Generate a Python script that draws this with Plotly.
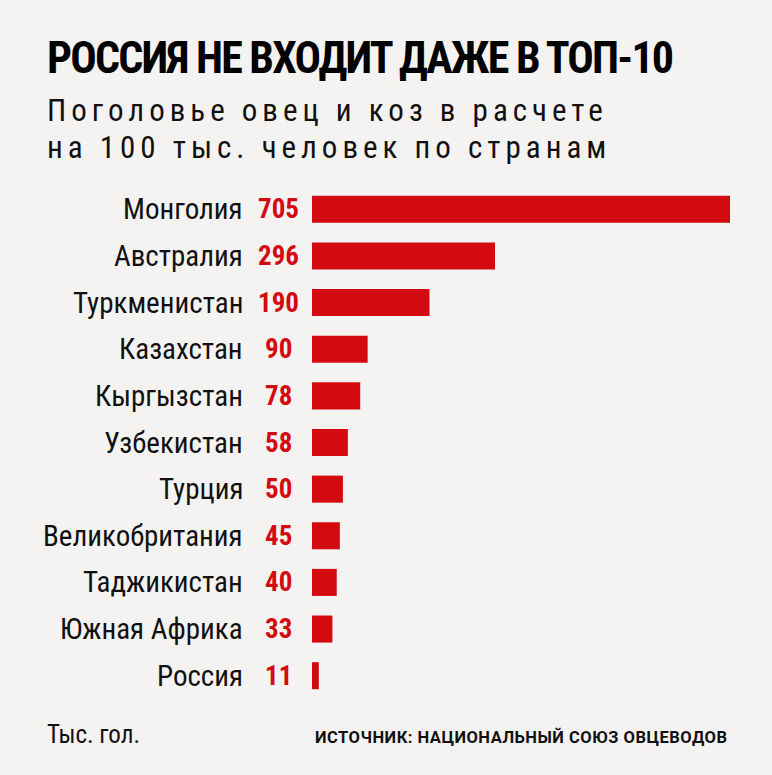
import plotly.graph_objects as go

# --- Data: sheep & goats per 100k people ---
countries = ["Монголия", "Австралия", "Туркменистан", "Казахстан", "Кыргызстан",
             "Узбекистан", "Турция", "Великобритания", "Таджикистан",
             "Южная Африка", "Россия"]
values = [705, 296, 190, 90, 78, 58, 50, 45, 40, 33, 11]

BG = "#f5f3f1"
RED = "#d40a11"
W, H = 772, 775
L, R, T, B = 312, 42, 186, 76
PW, PH = W - L - R, H - T - B


def px(x):
    return (x - L) / PW


def py(y):
    return (H - B - y) / PH


def spaced(s, ls):
    return f'<span style="letter-spacing:{ls}px">{s}</span>'


fig = go.Figure()

fig.add_trace(
    go.Bar(
        x=values,
        y=countries,
        orientation="h",
        marker=dict(color=RED, line=dict(width=0)),
        width=0.58,
        hoverinfo="skip",
    )
)

# country names and values next to the bars
for c, v in zip(countries, values):
    fig.add_annotation(x=px(245), xref="paper", y=c, yref="y", text=c,
                       xanchor="right", yanchor="middle", showarrow=False,
                       font=dict(family="Roboto Condensed", size=29, color="#111111"))
    fig.add_annotation(x=px(278), xref="paper", y=c, yref="y", text=str(v),
                       xanchor="center", yanchor="middle", showarrow=False,
                       font=dict(family="Roboto Condensed", size=27,
                                 color=RED, weight="bold"))

# title, subtitle, footer
sub_font = dict(family="Roboto Condensed", size=31, color="#111111", weight=400)
texts = [
    (spaced("РОССИЯ НЕ ВХОДИТ ДАЖЕ В ТОП-10", -1.8), 45, 58, "left",
     dict(family="Roboto Condensed", size=44, color="#000000", weight="bold")),
    (spaced("Поголовье овец и коз в расчете", 5), 45, 110, "left", sub_font),
    (spaced("на 100 тыс. человек по странам", 5), 45, 148, "left", sub_font),
    ("Тыс. гол.", 45, 734, "left",
     dict(family="Roboto Condensed", size=25, color="#111111")),
    (spaced("ИСТОЧНИК: НАЦИОНАЛЬНЫЙ СОЮЗ ОВЦЕВОДОВ", 0.5), 729, 737, "right",
     dict(family="Roboto", size=16.5, color="#111111", weight="bold")),
]
for txt, x, y, anchor, font in texts:
    fig.add_annotation(x=px(x), xref="paper", y=py(y), yref="paper", text=txt,
                       xanchor=anchor, yanchor="middle", showarrow=False, font=font)

fig.update_layout(
    width=W,
    height=H,
    margin=dict(l=L, r=R, t=T, b=B),
    paper_bgcolor=BG,
    plot_bgcolor=BG,
    showlegend=False,
    xaxis=dict(range=[0, 676], visible=False, fixedrange=True),
    yaxis=dict(autorange="reversed", visible=False, fixedrange=True),
)

fig.write_html("out.html", config={"displayModeBar": False},
               post_script="document.body.style.margin='0';")
